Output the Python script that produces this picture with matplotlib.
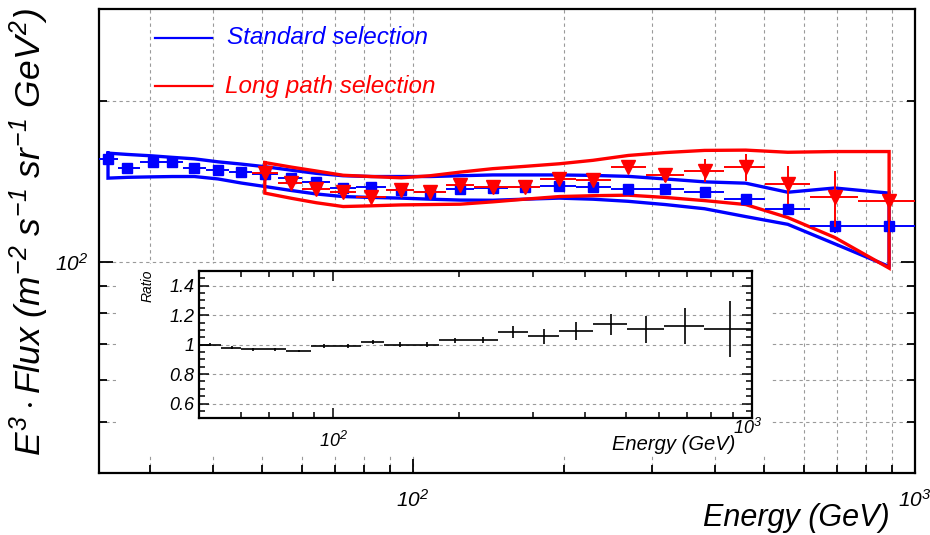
import numpy as np
import matplotlib
matplotlib.use('Agg')
import matplotlib.pyplot as plt
from matplotlib.ticker import FixedLocator, FixedFormatter, NullFormatter

plt.rcParams['font.family'] = ['Liberation Sans', 'DejaVu Sans']
plt.rcParams['mathtext.fontset'] = 'custom'
plt.rcParams['mathtext.rm'] = 'Liberation Sans:italic'
plt.rcParams['mathtext.it'] = 'Liberation Sans:italic'
plt.rcParams['mathtext.sf'] = 'Liberation Sans:italic'

# ---------------- data ----------------
std_energy = [24.7, 27.0, 30.3, 33.2, 36.7, 40.9, 45.5, 50.7, 57.3, 64.2, 72.6, 82.6, 94.8,
              108.3, 124.3, 144.2, 167.0, 195.6, 228.3, 268.5, 318, 381, 460, 558, 692, 888]
std_edges = [23.5, 25.8, 28.6, 31.7, 34.9, 38.7, 43.1, 47.7, 53.9, 60.2, 68.4, 77.1, 88.4,
             100.5, 116.4, 132.4, 154.7, 179.1, 210.9, 248, 291.6, 346, 417, 502.6, 617, 769, 1000]
std_flux = [155.8, 149.8, 153.8, 153.8, 150.2, 148.7, 147.6, 146.2, 143.3, 141.4, 137.4, 138.0, 136.4,
            135.4, 136.8, 137.4, 138.0, 138.8, 138.3, 136.8, 136.8, 135.4, 131.2, 125.5, 116.7, 116.4]
std_err = [1.0, 1.0, 1.0, 1.0, 1.0, 1.0, 1.0, 1.0, 1.0, 1.0, 1.0, 1.0, 1.0,
           1.0, 1.0, 1.0, 1.0, 1.0, 1.2, 1.4, 1.6, 2.0, 2.5, 3.0, 3.5, 4.0]
std_band_hi = [159.9, 159.0, 158.0, 157.0, 156.0, 154.0, 152.5, 150.8, 148.5, 146.5, 145.0, 144.5, 144.5,
               144.5, 145.0, 145.5, 145.5, 145.5, 145.2, 144.6, 143.0, 141.2, 140.4, 135.0, 137.5, 134.5]
std_band_lo = [143.5, 144.0, 144.3, 144.5, 144.5, 143.0, 140.5, 138.4, 136.0, 134.0, 132.5, 132.0, 131.6,
               131.0, 130.5, 130.4, 131.0, 131.6, 131.0, 129.8, 128.0, 125.7, 121.5, 117.5, 108.0, 97.9]

long_energy = [50.7, 57.3, 64.2, 72.6, 82.6, 94.8, 108.3, 124.3, 144.2, 167.0, 195.6, 228.3,
               268.5, 318, 381, 460, 558, 692, 888]
long_edges = [47.7, 53.9, 60.2, 68.4, 77.1, 88.4, 100.5, 116.4, 132.4, 154.7, 179.1, 210.9,
              248, 291.6, 346, 417, 502.6, 617, 769, 1000]
long_flux = [146.6, 140.4, 136.8, 135.4, 132.5, 136.6, 135.4, 139.4, 138.3, 138.3, 142.9, 142.5,
             150.5, 145.5, 148.3, 150.5, 140.0, 132.2, 129.7]
long_err = [1.5, 1.5, 1.5, 1.5, 1.5, 1.5, 1.5, 1.6, 1.8, 2.0, 2.2, 2.6,
            4.0, 4.4, 7.4, 9.0, 11.5, 16.0, 20.0]
long_band_hi = [153.5, 150.5, 148.0, 145.3, 144.5, 143.7, 145.0, 147.3, 149.5, 151.0, 152.7, 155.0,
                158.3, 160.3, 161.8, 162.0, 160.5, 161.0, 161.0]
long_band_lo = [134.5, 131.5, 129.0, 126.9, 127.3, 127.8, 128.0, 128.2, 129.5, 131.0, 132.5, 133.0,
                133.3, 132.0, 130.2, 128.0, 121.0, 111.0, 97.2]

ratio = [1.0, 0.98, 0.97, 0.97, 0.957, 0.99, 0.99, 1.018, 1.0, 1.0, 1.03, 1.03,
         1.085, 1.056, 1.092, 1.137, 1.104, 1.127, 1.104]
ratio_err = [0.01, 0.01, 0.01, 0.01, 0.01, 0.012, 0.012, 0.014, 0.015, 0.016, 0.018, 0.022,
             0.04, 0.05, 0.06, 0.07, 0.09, 0.12, 0.19]

BLUE = '#0000ff'
RED = '#ff0000'
GRID = '#9a9a9a'

W, H = 930, 535
fig = plt.figure(figsize=(W / 100, H / 100), dpi=100)


def frac(x0, y0, x1, y1):
    return [x0 / W, 1 - y1 / H, (x1 - x0) / W, (y1 - y0) / H]


# ---------------- main axes ----------------
ax = fig.add_axes(frac(99, 9.3, 915, 472.7))
ax.set_xscale('log')
ax.set_yscale('log')
ax.set_xlim(23.7, 1000)
ax.set_ylim(40.1, 298)

ax.xaxis.set_major_locator(FixedLocator([100, 1000]))
ax.xaxis.set_major_formatter(FixedFormatter([r'$10^2$', r'$10^3$']))
ax.xaxis.set_minor_locator(FixedLocator([30, 40, 50, 60, 70, 80, 90, 200, 300, 400, 500, 600, 700, 800, 900]))
ax.xaxis.set_minor_formatter(NullFormatter())
ax.yaxis.set_major_locator(FixedLocator([100]))
ax.yaxis.set_major_formatter(FixedFormatter([r'$10^2$']))
ax.yaxis.set_minor_locator(FixedLocator([50, 60, 70, 80, 90, 200]))
ax.yaxis.set_minor_formatter(NullFormatter())
ax.tick_params(which='both', direction='in', top=False, right=True, width=1.3, labelsize=15)
ax.tick_params(which='major', length=10)
ax.tick_params(which='minor', length=6)
ax.tick_params(axis='x', which='major', pad=12)
ax.tick_params(axis='y', which='major', pad=8)
ax.grid(which='both', ls=(0, (3, 3)), color=GRID, lw=0.8)
for s in ax.spines.values():
    s.set_linewidth(1.6)


def band(x, hi, lo, color):
    xs = list(x) + list(x)[::-1] + [x[0]]
    ys = list(hi) + list(lo)[::-1] + [hi[0]]
    ax.plot(xs, ys, color=color, lw=2.4, zorder=3, solid_joinstyle='miter')


band(std_energy, std_band_hi, std_band_lo, BLUE)
band(long_energy, long_band_hi, long_band_lo, RED)


def xerrs(centers, edges):
    c = np.array(centers)
    e = np.array(edges)
    return [c - e[:-1], e[1:] - c]


ax.errorbar(std_energy, std_flux, yerr=std_err, xerr=xerrs(std_energy, std_edges),
            fmt='s', color=BLUE, ms=7.5, elinewidth=1.4, capsize=0, zorder=4)
ax.errorbar(long_energy, long_flux, yerr=long_err, xerr=xerrs(long_energy, long_edges),
            fmt='v', color=RED, ms=9.5, elinewidth=1.4, capsize=0, zorder=5)

# legend
fig.add_artist(plt.Line2D([155 / W, 212 / W], [1 - 38 / H, 1 - 38 / H], color=BLUE, lw=1.6))
fig.add_artist(plt.Line2D([155 / W, 212 / W], [1 - 86 / H, 1 - 86 / H], color=RED, lw=1.6))
fig.text(227 / W, 1 - 38 / H, 'Standard selection', color=BLUE, fontsize=17.5, style='italic',
         va='center', ha='left')
fig.text(225 / W, 1 - 86 / H, 'Long path selection', color=RED, fontsize=17.5, style='italic',
         va='center', ha='left')

# axis titles
fig.text(29 / W, 1 - 8 / H, r'$E^3 \cdot Flux\ (m^{-2}\ s^{-1}\ sr^{-1}\ GeV^2)$', rotation=90,
         ha='center', va='top', fontsize=25.5)
fig.text(890 / W, 1 - 518 / H, 'Energy (GeV)', ha='right', va='center', fontsize=22, style='italic')

# ---------------- inset pad ----------------
pad = fig.add_axes(frac(116, 264, 772, 456))
pad.set_facecolor('white')
pad.set_xticks([])
pad.set_yticks([])
for s in pad.spines.values():
    s.set_visible(False)

ins = fig.add_axes(frac(199, 271, 751.7, 418.3))
ins.set_xscale('log')
ins.set_xlim(long_edges[0], long_edges[-1])
ins.set_ylim(0.5, 1.5)
ins.xaxis.set_major_locator(FixedLocator([100, 1000]))
ins.xaxis.set_major_formatter(FixedFormatter([r'$10^2$', '']))
ins.xaxis.set_minor_locator(FixedLocator([60, 70, 80, 90, 200, 300, 400, 500, 600, 700, 800, 900]))
ins.xaxis.set_minor_formatter(NullFormatter())
ins.yaxis.set_major_locator(FixedLocator([0.6, 0.8, 1.0, 1.2, 1.4]))
ins.yaxis.set_major_formatter(FixedFormatter(['0.6', '0.8', '1', '1.2', '1.4']))
ins.yaxis.set_minor_locator(FixedLocator(np.arange(0.55, 1.5, 0.05)))
ins.tick_params(which='both', direction='in', top=True, right=True, width=1.1, labelsize=13)
ins.tick_params(which='major', length=7)
ins.tick_params(which='minor', length=4)
ins.tick_params(axis='x', which='major', pad=9)
ins.grid(axis='y', which='major', ls=(0, (3, 3)), color=GRID, lw=0.8)
for s in ins.spines.values():
    s.set_linewidth(1.6)
for lab in ins.get_yticklabels():
    lab.set_style('italic')

ins.errorbar(long_energy, ratio, yerr=ratio_err, xerr=xerrs(long_energy, long_edges),
             fmt='none', ecolor='black', elinewidth=1.2, capsize=0)

fig.text(148 / W, 1 - 270 / H, 'Ratio', rotation=90, ha='center', va='top', fontsize=10, style='italic')
fig.text(735 / W, 1 - 445 / H, 'Energy (GeV)', ha='right', va='center', fontsize=14.5, style='italic')
fig.text(748 / W, 1 - 428 / H, r'$10^3$', ha='center', va='center', fontsize=13)

fig.savefig('out.png', dpi=100)
